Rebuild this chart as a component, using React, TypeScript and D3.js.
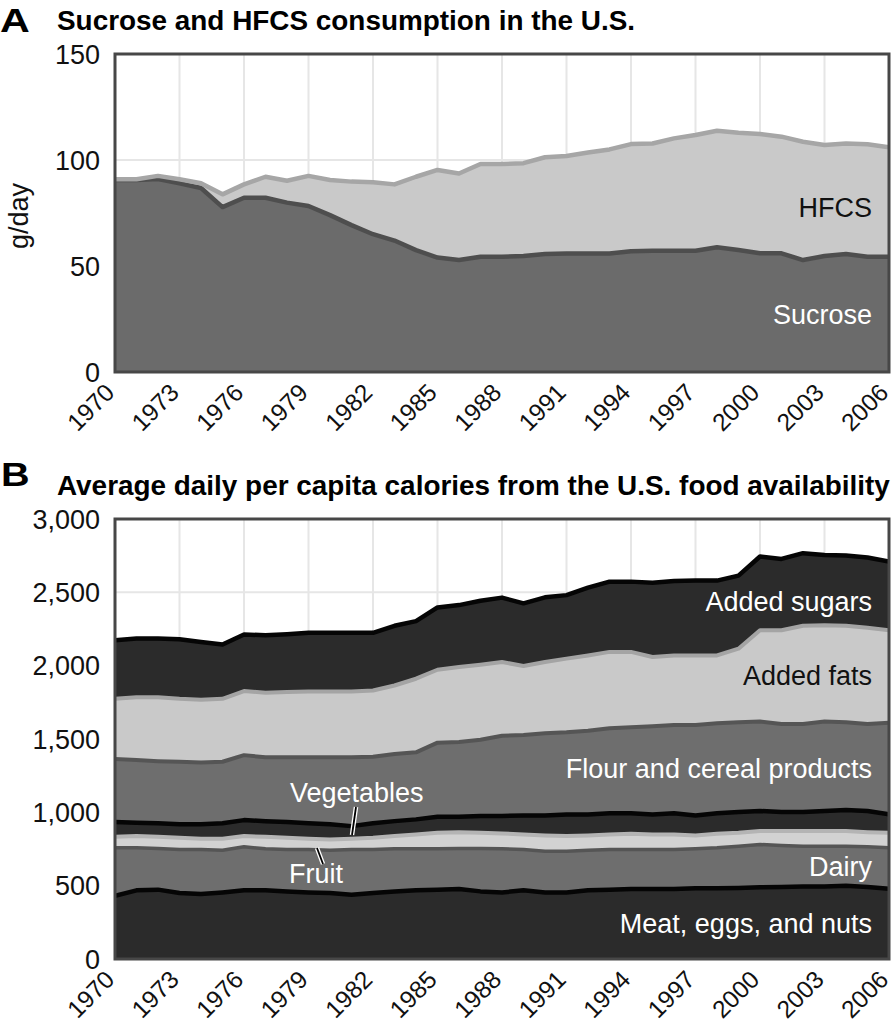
import React from 'react';
import * as d3 from 'd3';

const years = [1970,1971,1972,1973,1974,1975,1976,1977,1978,1979,1980,1981,1982,1983,1984,1985,1986,1987,1988,1989,1990,1991,1992,1993,1994,1995,1996,1997,1998,1999,2000,2001,2002,2003,2004,2005,2006];
const xTickYears = [1970,1973,1976,1979,1982,1985,1988,1991,1994,1997,2000,2003,2006];

// Panel A (g/day)
const sucrose = [90.6,90.6,91,89,86.8,77.8,82.2,82.2,79.9,78.3,74,69.3,65,62,57.5,54,52.8,54.4,54.4,54.7,55.7,55.9,55.9,55.9,57,57.2,57.2,57.2,58.8,57.5,56,56,52.8,54.7,55.7,54.4,54.4];
const hfcs = [0.3,0.3,1.5,1.9,2.2,6,6.3,9.9,10.3,14.2,16.6,20.5,24.5,26.5,34.6,41.3,40.8,43.7,43.7,43.8,45.6,46,47.6,49.1,50.5,50.6,53,54.6,55,55.4,56.3,55,55.8,52.4,52.1,53,51.6];
const yTicksA = [0,50,100,150];

// Panel B (kcal/day)
const meat = [431,468,473,450,443,454,468,468,461,454,450,438,450,461,468,473,477,461,454,468,454,454,468,473,477,477,477,482,482,484,489,491,495,495,500,491,479];
const dairy = [327,290,280,297,304,288,297,283,286,293,292,309,297,290,283,278,276,292,297,279,281,281,274,274,270,270,270,269,276,285,292,283,274,274,269,274,279];
const fruit = [75,80,80,80,73,78,73,82,80,73,73,73,80,87,98,110,112,108,105,102,107,103,100,102,107,102,102,91,96,92,91,98,103,103,103,100,103];
const vegetables = [101,91,92,91,98,105,109,107,107,105,103,86,98,102,103,109,105,114,119,130,137,148,144,144,139,137,144,137,139,141,137,130,130,137,144,144,125];
const flour = [429,427,424,427,422,420,443,435,441,450,457,469,454,457,457,505,510,520,547,548,560,560,571,580,587,601,603,617,614,612,610,601,601,610,598,594,624];
const fats = [411,429,436,429,427,429,437,440,445,449,449,449,452,468,502,497,511,512,503,471,486,502,513,521,514,472,474,474,463,502,623,639,669,657,658,655,632];
const sugars = [399,400,400,406,395,370,385,393,395,400,400,400,393,407,393,425,422,436,439,427,441,433,462,479,479,507,507,510,510,498,502,486,495,479,479,480,468];
const yTicksB = [0,500,1000,1500,2000,2500,3000];

const FONT = "'Liberation Sans', Arial, Helvetica, sans-serif";

const L = 115, R = 889;
const xS = d3.scaleLinear().domain([1970, 2006]).range([L, R]);
const yA = d3.scaleLinear().domain([0, 150]).range([372, 54]);
const yB = d3.scaleLinear().domain([0, 3000]).range([959, 519]);

const rowsA = years.map((y, i) => ({ year: y, sucrose: sucrose[i], hfcs: hfcs[i] }));
const keysA = ['sucrose', 'hfcs'];
const stackA = d3.stack().keys(keysA)(rowsA as any);
const styleA: Record<string, { fill: string; line: string; w: number }> = {
  sucrose: { fill: '#6b6b6b', line: '#4e4e4e', w: 4.5 },
  hfcs: { fill: '#c9c9c9', line: '#a6a6a6', w: 4.5 },
};

const rowsB = years.map((y, i) => ({ year: y, meat: meat[i], dairy: dairy[i], fruit: fruit[i], vegetables: vegetables[i], flour: flour[i], fats: fats[i], sugars: sugars[i] }));
const keysB = ['meat', 'dairy', 'fruit', 'vegetables', 'flour', 'fats', 'sugars'];
const stackB = d3.stack().keys(keysB)(rowsB as any);
const styleB: Record<string, { fill: string; line: string; w: number }> = {
  meat: { fill: '#2b2b2b', line: '#050505', w: 4.5 },
  dairy: { fill: '#6e6e6e', line: '#555555', w: 3.5 },
  fruit: { fill: '#d2d2d2', line: '#b4b4b4', w: 4 },
  vegetables: { fill: '#2b2b2b', line: '#050505', w: 4.5 },
  flour: { fill: '#6e6e6e', line: '#555555', w: 4 },
  fats: { fill: '#c9c9c9', line: '#a4a4a4', w: 4 },
  sugars: { fill: '#2b2b2b', line: '#050505', w: 4.5 },
};

function Panel({ stack, style, y, yTicks, top, bottom, clipId, fmt }: any) {
  const area = d3.area<any>().x((d: any) => xS(d.data.year)).y0((d: any) => y(d[0])).y1((d: any) => y(d[1]));
  const line = d3.line<any>().x((d: any) => xS(d.data.year)).y((d: any) => y(d[1]));
  return (
    <g>
      <defs>
        <clipPath id={clipId}><rect x={L} y={top} width={R - L} height={bottom - top} /></clipPath>
      </defs>
      <rect x={L} y={top} width={R - L} height={bottom - top} fill="#ffffff" />
      {yTicks.filter((t: number) => t > 0 && y(t) > top + 2).map((t: number) => (
        <line key={'h' + t} x1={L} x2={R} y1={y(t)} y2={y(t)} stroke="#e6e6e6" strokeWidth={2} />
      ))}
      {xTickYears.filter((t) => t > 1970 && t < 2006).map((t) => (
        <line key={'v' + t} x1={xS(t)} x2={xS(t)} y1={top} y2={bottom} stroke="#e6e6e6" strokeWidth={2} />
      ))}
      <g clipPath={`url(#${clipId})`}>
        {stack.map((s: any) => (
          <path key={'a' + s.key} d={area(s) || ''} fill={style[s.key].fill} />
        ))}
        {stack.map((s: any) => (
          <path key={'l' + s.key} d={line(s) || ''} fill="none" stroke={style[s.key].line} strokeWidth={style[s.key].w} strokeLinejoin="round" />
        ))}
      </g>
      <rect x={L} y={top} width={R - L} height={bottom - top} fill="none" stroke="#474747" strokeWidth={3} />
      {yTicks.map((t: number) => (
        <text key={'yt' + t} x={100} y={y(t)} dy="0.36em" textAnchor="end" fontFamily={FONT} fontSize={27} fill="#111">{fmt(t)}</text>
      ))}
      {xTickYears.map((t) => (
        <text key={'xt' + t} transform={`translate(${xS(t) + 1},${bottom + 22}) rotate(-45)`} textAnchor="end" fontFamily={FONT} fontSize={24.5} fill="#111">{t}</text>
      ))}
    </g>
  );
}

export default function App() {
  const fmtB = d3.format(',');
  return (
    <div style={{ position: 'absolute', left: 0, top: 0 }}>
      <svg width={893} height={1024} viewBox="0 0 893 1024" style={{ display: 'block', background: '#fff' }}>
        <rect x={0} y={0} width={893} height={1024} fill="#fff" />
        <text transform="translate(0,32) scale(1.25,1)" fontFamily={FONT} fontWeight="bold" fontSize={33} fill="#000">A</text>
        <text x={57} y={30} fontFamily={FONT} fontWeight="bold" fontSize={27.9} fill="#000">Sucrose and HFCS consumption in the U.S.</text>
        <Panel stack={stackA} style={styleA} y={yA} yTicks={yTicksA} top={54} bottom={372} clipId="clipA" fmt={(t: number) => String(t)} />
        <text transform="translate(28,216) rotate(-90)" textAnchor="middle" fontFamily={FONT} fontSize={27} fill="#111">g/day</text>
        <text x={872} y={217} textAnchor="end" fontFamily={FONT} fontSize={27} fill="#111">HFCS</text>
        <text x={872} y={324} textAnchor="end" fontFamily={FONT} fontSize={27} fill="#fff">Sucrose</text>

        <text transform="translate(1,486) scale(1.2,1)" fontFamily={FONT} fontWeight="bold" fontSize={33} fill="#000">B</text>
        <text x={57} y={495} fontFamily={FONT} fontWeight="bold" fontSize={27.9} fill="#000">Average daily per capita calories from the U.S. food availability</text>
        <Panel stack={stackB} style={styleB} y={yB} yTicks={yTicksB} top={519} bottom={959} clipId="clipB" fmt={fmtB} />
        <text x={872} y={611} textAnchor="end" fontFamily={FONT} fontSize={27} fill="#fff">Added sugars</text>
        <text x={872} y={685} textAnchor="end" fontFamily={FONT} fontSize={27} fill="#111">Added fats</text>
        <text x={872} y={778} textAnchor="end" fontFamily={FONT} fontSize={27} fill="#fff">Flour and cereal products</text>
        <text x={872} y={876} textAnchor="end" fontFamily={FONT} fontSize={27} fill="#fff">Dairy</text>
        <text x={872} y={933} textAnchor="end" fontFamily={FONT} fontSize={27} fill="#fff">Meat, eggs, and nuts</text>
        <text x={290} y={802} fontFamily={FONT} fontSize={27} fill="#fff">Vegetables</text>
        <text x={289} y={883} fontFamily={FONT} fontSize={27} fill="#fff">Fruit</text>
        <line x1={356} y1={807} x2={352} y2={835} stroke="#fff" strokeWidth={4.5} />
        <line x1={356} y1={807} x2={352} y2={835} stroke="#000" strokeWidth={1.8} />
        <line x1={317} y1={848} x2={323} y2={864} stroke="#fff" strokeWidth={4.5} />
        <line x1={317} y1={848} x2={323} y2={864} stroke="#000" strokeWidth={1.8} />
      </svg>
    </div>
  );
}
